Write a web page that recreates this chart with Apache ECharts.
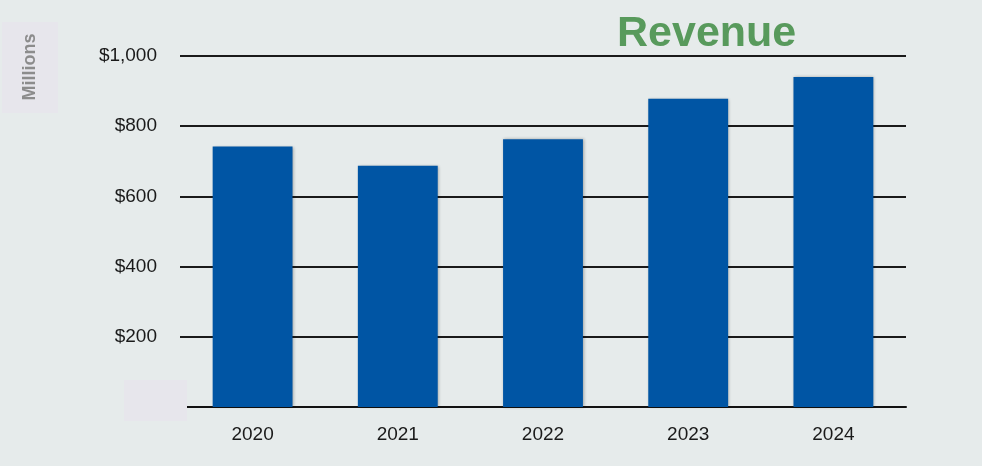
<!DOCTYPE html>
<html>
<head>
<meta charset="utf-8">
<script src="https://cdn.jsdelivr.net/npm/echarts@6/dist/echarts.min.js"></script>
<style>
  html, body { margin: 0; padding: 0; background: #e6ebeb; }
  #chart { width: 982px; height: 466px; }
</style>
</head>
<body>
<div id="chart"></div>
<script>
// Annual revenue, in millions of dollars
const years = ['2020', '2021', '2022', '2023', '2024'];
const revenue = [742, 687, 763, 878, 940];
const yTicks = { min: 0, max: 1000, interval: 200 };

const chart = echarts.init(document.getElementById('chart'));

chart.setOption({
  backgroundColor: '#e6ebeb',
  animation: false,
  title: {
    text: 'Revenue',
    left: 612,
    top: 8,
    textStyle: {
      fontFamily: 'Liberation Sans, Arial, sans-serif',
      fontSize: 43,
      fontWeight: 'bold',
      color: '#589a5c'
    }
  },
  grid: { left: 180, right: 76, top: 56, bottom: 59 },
  xAxis: {
    type: 'category',
    data: years,
    axisLine: { lineStyle: { color: '#111', width: 2 } },
    axisTick: { show: false },
    axisLabel: {
      margin: 18,
      fontFamily: 'Liberation Sans, Arial, sans-serif',
      fontSize: 19,
      color: '#1a1a1a'
    }
  },
  yAxis: {
    type: 'value',
    min: yTicks.min,
    max: yTicks.max,
    interval: yTicks.interval,
    axisLine: { show: false },
    axisTick: { show: false },
    splitLine: { lineStyle: { color: '#1a1a1a', width: 2 } },
    axisLabel: {
      margin: 23,
      fontFamily: 'Liberation Sans, Arial, sans-serif',
      fontSize: 19,
      color: '#1a1a1a',
      formatter: v => v === 0 ? '' : '$' + v.toLocaleString('en-US')
    }
  },
  series: [{
    type: 'bar',
    data: revenue,
    barWidth: '55%',
    itemStyle: {
      color: '#0055a4',
      shadowColor: 'rgba(0,0,0,0.3)',
      shadowBlur: 3,
      shadowOffsetX: 1,
      shadowOffsetY: 0
    }
  }],
  graphic: [
    {
      type: 'rect',
      left: 2, top: 22,
      shape: { width: 56, height: 91 },
      style: { fill: '#e7e6ec' },
      z: 10
    },
    {
      type: 'text',
      x: 30, y: 67,
      rotation: Math.PI / 2,
      style: {
        text: 'Millions',
        fontFamily: 'Liberation Sans, Arial, sans-serif',
        fontSize: 18,
        fontWeight: 'bold',
        fill: '#8c8c8c',
        align: 'center',
        verticalAlign: 'middle'
      },
      z: 11
    },
    {
      type: 'rect',
      left: 124, top: 380,
      shape: { width: 63, height: 41 },
      style: { fill: '#e7e6ec' },
      z: 10
    }
  ]
});
</script>
</body>
</html>
